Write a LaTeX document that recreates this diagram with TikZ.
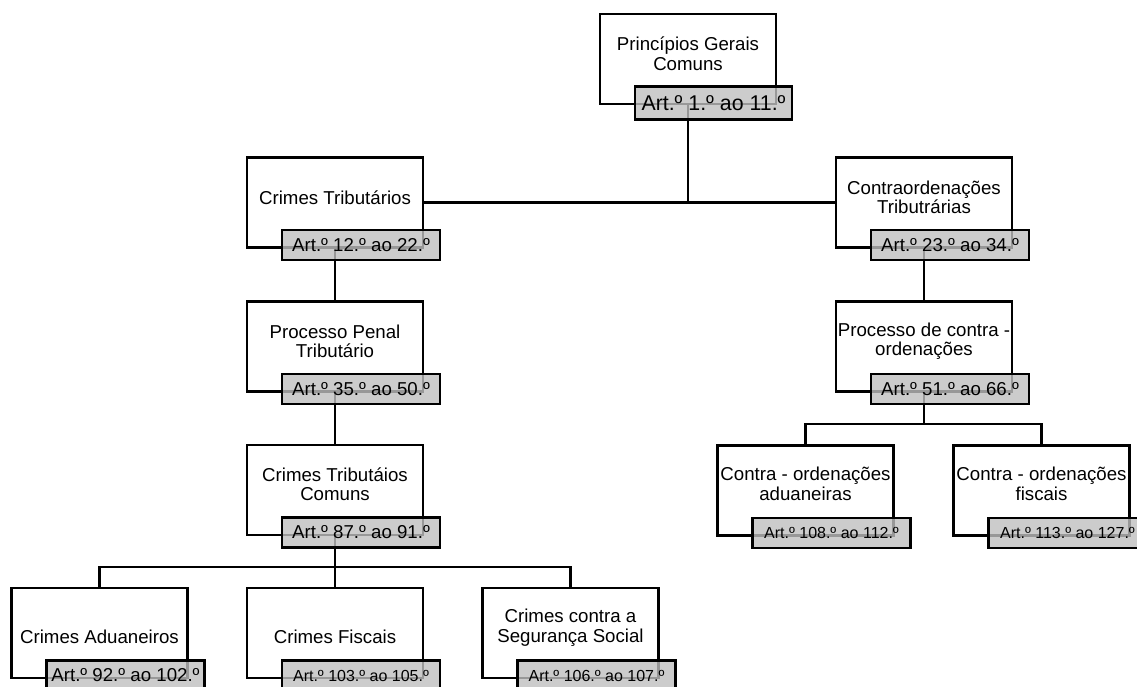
\documentclass[tikz,border=0pt]{standalone}
\usepackage{fontspec}
\setmainfont{Liberation Sans}
\usepackage{tikz}

\begin{document}
\begin{tikzpicture}[x=0.75pt, y=-0.75pt,
  box/.style={draw, line width=1.9pt, minimum width=132pt,
              minimum height=67.5pt, inner sep=0pt},
  boxtext/.style={align=center, inner sep=0pt,
              font=\fontsize{14}{14.5}\selectfont},
  tab/.style={draw, line width=1.9pt, fill=black!25, fill opacity=0.8,
              text opacity=1, minimum width=118.5pt, minimum height=22.5pt,
              inner sep=0pt, anchor=north west, xshift=26.25pt, yshift=15pt,
              font=\fontsize{14}{16}\selectfont},
  smalltab/.style={tab, font=\fontsize{12}{14}\selectfont},
  link/.style={line width=1.9pt}
]
  \useasboundingbox (0,0) rectangle (1137,686);

  \node[box] (top) at (688, 59)    {};
  \node[box] (ct)  at (335, 202.5) {};
  \node[box] (co)  at (924, 202.5) {};
  \node[box] (ppt) at (335, 346.5) {};
  \node[box] (pco) at (924, 346.5) {};
  \node[box] (ctc) at (335, 490)   {};
  \node[box] (coa) at (805.5, 490.5)  {};
  \node[box] (cof) at (1041.5, 490.5) {};
  \node[box] (cad) at (99.5, 633)  {};
  \node[box] (cfi) at (335, 633)   {};
  \node[box] (css) at (570.5, 633) {};

  \node[boxtext] (top-t) at ([yshift=4pt]top.center) {Princípios Gerais\\Comuns};
  \node[boxtext] (ct-t)  at ([yshift=3.5pt]ct.center) {Crimes Tributários};
  \node[boxtext] (co-t)  at ([yshift=3.75pt]co.center) {Contraordenações\\Tributrárias};
  \node[boxtext] (ppt-t) at ([yshift=4pt]ppt.center) {Processo Penal\\Tributário};
  \node[boxtext] (pco-t) at ([yshift=3.75pt]pco.center) {Processo de contra -\\ordenações};
  \node[boxtext] (ctc-t) at ([yshift=4.5pt]ctc.center) {Crimes Tributáios\\Comuns};
  \node[boxtext] (coa-t) at ([yshift=5pt]coa.center) {Contra - ordenações\\aduaneiras};
  \node[boxtext] (cof-t) at ([yshift=5pt]cof.center) {Contra - ordenações\\fiscais};
  \node[boxtext] (cad-t) at ([yshift=-3pt]cad.center) {Crimes Aduaneiros};
  \node[boxtext] (cfi-t) at ([yshift=-3pt]cfi.center) {Crimes Fiscais};
  \node[boxtext] (css-t) at ([yshift=4pt]css.center) {Crimes contra a\\Segurança Social};

  \coordinate (crimes-bus) at (335, 567);
  \coordinate (contra-bus) at (924, 424);

  \draw[link] (top.south) -- (top.south |- ct.east);
  \draw[link] (ct.east) -- (co.west);
  \draw[link] (ct.south) -- (ppt.north);
  \draw[link] (ppt.south) -- (ctc.north);
  \draw[link] (ctc.south) -- (cfi.north);
  \draw[link] (cad.north) |- (crimes-bus) -| (css.north);
  \draw[link] (co.south) -- (pco.north);
  \draw[link] (pco.south) -- (contra-bus);
  \draw[link] (coa.north) |- (contra-bus) -| (cof.north);

  \node[tab, minimum width=117.75pt, minimum height=24.75pt,
        font=\fontsize{16}{18}\selectfont] (top-art) at (top.south west) {Art.º 1.º ao 11.º};
  \node[tab] (ct-art)  at (ct.south west)  {Art.º 12.º ao 22.º};
  \node[tab] (co-art)  at (co.south west)  {Art.º 23.º ao 34.º};
  \node[tab] (ppt-art) at (ppt.south west) {Art.º 35.º ao 50.º};
  \node[tab] (pco-art) at (pco.south west) {Art.º 51.º ao 66.º};
  \node[tab] (ctc-art) at (ctc.south west) {Art.º 87.º ao 91.º};
  \node[tab] (cad-art) at (cad.south west) {Art.º 92.º ao 102.º};
  \node[smalltab] (cfi-art) at (cfi.south west) {Art.º 103.º ao 105.º};
  \node[smalltab] (css-art) at (css.south west) {Art.º 106.º ao 107.º};
  \node[smalltab] (coa-art) at (coa.south west) {Art.º 108.º ao 112.º};
  \node[smalltab] (cof-art) at (cof.south west) {Art.º 113.º ao 127.º};
\end{tikzpicture}
\end{document}
